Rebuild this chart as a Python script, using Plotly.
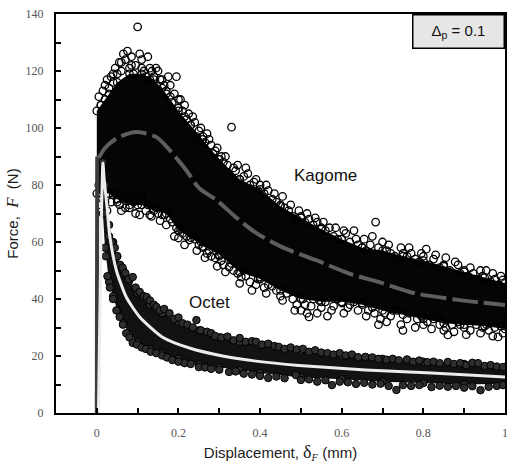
import plotly.graph_objects as go

# ---------------- Kagome lattice ----------------
# dense core of the force–displacement cloud (upper / lower boundary)
kag_core_x = [0.0, 0.01, 0.03, 0.05, 0.08, 0.11, 0.14, 0.17, 0.20, 0.23, 0.26, 0.30, 0.35,
              0.40, 0.45, 0.50, 0.55, 0.60, 0.65, 0.70, 0.75, 0.80, 0.85, 0.90, 0.95, 1.0]
kag_core_hi = [106, 108, 112, 116, 119, 119, 117, 112, 106, 101, 96, 89, 82,
               78.5, 72.5, 68.5, 64.5, 61, 58, 57, 55, 53.5, 51.5, 49.5, 47.5, 45.5]
kag_core_lo = [77, 77, 77, 75, 73, 73, 71, 70, 64, 61.5, 58.5, 55.5, 49.5,
               47, 43, 40, 39, 39, 38, 36, 34.5, 33, 31.5, 31, 30.5, 29.5]

# scattered measurements around the core
kag_x = [0.005, 0.010, 0.015, 0.020, 0.025, 0.030, 0.035, 0.040, 0.045, 0.050, 0.055, 0.060,
         0.065, 0.070, 0.075, 0.080, 0.085, 0.090, 0.095, 0.100, 0.105, 0.110, 0.115, 0.120,
         0.125, 0.130, 0.135, 0.140, 0.150, 0.155, 0.160, 0.165, 0.170, 0.175, 0.180, 0.185,
         0.190, 0.195, 0.200, 0.205, 0.210, 0.215, 0.220, 0.225, 0.230, 0.240, 0.245, 0.250,
         0.260, 0.265, 0.270, 0.280, 0.285, 0.290, 0.300, 0.305, 0.310, 0.320, 0.330, 0.335,
         0.340, 0.350, 0.360, 0.370, 0.375, 0.385, 0.395, 0.400, 0.410, 0.420, 0.430, 0.440,
         0.450, 0.460, 0.470, 0.480, 0.490, 0.500, 0.510, 0.520, 0.530, 0.540, 0.550, 0.560,
         0.570, 0.580, 0.590, 0.600, 0.610, 0.620, 0.630, 0.640, 0.650, 0.660, 0.670, 0.683,
         0.690, 0.700, 0.710, 0.720, 0.730, 0.740, 0.750, 0.760, 0.770, 0.780, 0.790, 0.800,
         0.807, 0.815, 0.825, 0.840, 0.850, 0.865, 0.878, 0.890, 0.900, 0.910, 0.922, 0.935,
         0.945, 0.954, 0.965, 0.975, 0.985, 0.995,
         0.005, 0.010, 0.015, 0.020, 0.030, 0.040, 0.044, 0.050, 0.056, 0.065, 0.070, 0.080,
         0.090, 0.100, 0.110, 0.120, 0.130, 0.134, 0.145, 0.150, 0.160, 0.166, 0.175, 0.185,
         0.195, 0.200, 0.210, 0.220, 0.227, 0.240, 0.250, 0.260, 0.270, 0.280, 0.290, 0.300,
         0.310, 0.324, 0.335, 0.345, 0.354, 0.365, 0.375, 0.390, 0.400, 0.410, 0.420, 0.440,
         0.450, 0.465, 0.480, 0.490, 0.500, 0.510, 0.520, 0.530, 0.550, 0.560, 0.575, 0.590,
         0.600, 0.615, 0.630, 0.650, 0.665, 0.680, 0.695, 0.705, 0.720, 0.735, 0.750, 0.760,
         0.780, 0.795, 0.810, 0.825, 0.840, 0.855, 0.860, 0.870, 0.885, 0.900, 0.915, 0.930,
         0.945, 0.960, 0.975, 0.983, 0.995]
kag_F = [111, 108, 113, 110, 117, 114, 118, 116, 121, 119, 123, 120,
         126, 124, 127, 121, 125, 119, 122, 135.5, 126, 121, 120, 118,
         125, 121, 120, 118, 120, 117, 114, 115, 113, 118, 111, 109,
         112, 118, 107, 110, 106, 104, 103, 105, 101, 102, 97, 99,
         97, 95, 98, 94, 91, 92, 89, 90, 88, 87, 100.3, 86,
         85, 82, 83, 84, 80, 81, 78, 80, 77, 78, 75, 74,
         73, 72, 71, 69, 68, 69, 67, 68, 66, 67, 65, 64,
         65, 62, 61, 61, 63, 60, 64, 59, 58, 57, 59, 67,
         58, 60, 57, 56, 55, 54, 56, 55, 56, 54, 53, 55,
         57.5, 52, 54, 51, 52, 50, 53, 49, 50, 48, 49, 47,
         48, 50, 46, 47, 45, 46.7,
         80, 76, 78, 74, 77, 76.5, 77, 74, 73, 75, 72, 72,
         74, 73, 76, 71, 69.5, 69, 72, 70, 69.5, 69.5, 71, 67,
         65, 61.4, 63, 62, 60.7, 61, 59, 58, 56, 55, 54.4, 55,
         52, 51.2, 50, 49, 47.7, 48, 46, 45, 47.7, 44, 45, 43,
         41, 42, 40, 38, 36, 38, 33.7, 40, 37, 39, 36, 40,
         38.6, 37, 39, 38.6, 36, 35, 33, 35, 34, 36, 29, 33,
         30, 34, 32, 33, 31, 30, 27.4, 31, 32, 30, 29, 31,
         30, 29, 30, 26.7, 28]

# second row of points along the fringe of the cloud
kag_fringe_x = [0.020, 0.040, 0.060, 0.085, 0.110, 0.130, 0.145, 0.160, 0.180, 0.200, 0.215,
                0.235, 0.255, 0.275, 0.295, 0.315, 0.345, 0.365, 0.390, 0.415, 0.435, 0.455,
                0.475, 0.495, 0.515, 0.535, 0.555, 0.585, 0.605, 0.635, 0.655, 0.675, 0.715,
                0.745, 0.765, 0.795, 0.830, 0.855, 0.885, 0.915, 0.940, 0.970, 0.990,
                0.010, 0.025, 0.035, 0.060, 0.075, 0.095, 0.105, 0.125, 0.140, 0.155, 0.170,
                0.180, 0.190, 0.205, 0.215, 0.235, 0.245, 0.255, 0.265, 0.275, 0.295, 0.305,
                0.315, 0.330, 0.350, 0.360, 0.380, 0.395, 0.415, 0.430, 0.455, 0.470, 0.485,
                0.505, 0.515, 0.525, 0.540, 0.545, 0.565, 0.580, 0.605, 0.620, 0.640, 0.660,
                0.675, 0.690, 0.710, 0.725, 0.745, 0.765, 0.785, 0.800, 0.820, 0.835, 0.850,
                0.875, 0.890, 0.905, 0.925, 0.940, 0.955, 0.970, 0.990]
kag_fringe_F = [115, 119, 123, 122, 124, 117, 121, 117, 115, 110, 108,
                104, 100, 96, 93, 90, 87, 86, 82, 80, 77, 76,
                73, 71, 70, 68.5, 67, 65, 64, 61, 61, 62, 59,
                58, 58, 56, 55.5, 54.5, 52, 51, 50, 49, 48,
                73, 71, 74, 71, 76, 70, 69.5, 73, 74, 67.5, 66,
                68, 62, 64.5, 59, 62.5, 57, 60, 54.5, 57, 51.5, 53.5,
                49.5, 52.5, 45.5, 50, 43, 47, 42, 44.5, 39.5, 44, 36,
                40, 35, 37.5, 35, 39.5, 34, 37.5, 35, 38, 36, 34,
                37, 31, 32, 36, 31, 35, 33, 31, 29.5, 33.5, 29,
                28.5, 31, 27.5, 32.5, 28, 31, 27, 30.5]

# fitted mean response
kag_mean_x = [0.005, 0.02, 0.05, 0.097, 0.146, 0.178, 0.22, 0.25, 0.293, 0.34, 0.39,
              0.454, 0.536, 0.617, 0.69, 0.78, 0.89, 1.0]
kag_mean_F = [89.5, 93, 96.5, 98.6, 96.8, 92.3, 85, 79, 74.7, 68.8, 63.2,
              58.2, 53.7, 49, 46, 42, 39.6, 37.9]

# ---------------- Octet lattice ----------------
oct_core_x = [0.015, 0.02, 0.03, 0.04, 0.05, 0.065, 0.08, 0.10, 0.13, 0.16, 0.20,
              0.25, 0.30, 0.35, 0.40, 0.50, 0.60, 0.70, 0.80, 0.90, 1.0]
oct_core_hi = [88, 80, 66, 60, 55, 50, 46.5, 42, 38, 35, 32,
               29, 26.5, 25, 23.8, 21.8, 20.2, 19, 18, 17.2, 16.2]
oct_core_lo = [70, 58, 46, 41, 36, 31.5, 27.5, 24.8, 22.5, 21, 19,
               17, 16, 15, 14, 12.5, 11.8, 11, 10.5, 10, 10.3]

oct_x = [0.030, 0.036, 0.044, 0.050, 0.057, 0.063, 0.070, 0.078, 0.088, 0.095, 0.105, 0.115,
         0.122, 0.130, 0.140, 0.146, 0.155, 0.165, 0.178, 0.190, 0.200, 0.210, 0.222, 0.235,
         0.244, 0.255, 0.270, 0.280, 0.290, 0.305, 0.320, 0.335, 0.350, 0.365, 0.380, 0.390,
         0.405, 0.420, 0.435, 0.446, 0.460, 0.475, 0.490, 0.505, 0.520, 0.535, 0.550, 0.565,
         0.580, 0.595, 0.610, 0.625, 0.640, 0.658, 0.675, 0.690, 0.710, 0.725, 0.740, 0.760,
         0.775, 0.790, 0.810, 0.825, 0.840, 0.860, 0.875, 0.890, 0.905, 0.920, 0.934, 0.950,
         0.965, 0.980, 0.995,
         0.022, 0.026, 0.032, 0.040, 0.048, 0.056, 0.064, 0.072, 0.080, 0.088, 0.098, 0.110,
         0.120, 0.132, 0.146, 0.160, 0.172, 0.185, 0.200, 0.215, 0.230, 0.250, 0.265, 0.280,
         0.300, 0.324, 0.340, 0.360, 0.380, 0.400, 0.420, 0.440, 0.460, 0.488, 0.500, 0.520,
         0.540, 0.560, 0.576, 0.595, 0.615, 0.635, 0.655, 0.675, 0.695, 0.715, 0.734, 0.750,
         0.770, 0.790, 0.820, 0.840, 0.860, 0.880, 0.900, 0.920, 0.940, 0.960, 0.980, 0.995]
oct_F = [62, 60, 58, 55, 52, 51, 49, 47, 47.7, 44, 42.5, 41,
         40.7, 39.5, 38, 37.2, 36, 36.5, 35, 33, 33.5, 31.5, 31, 30,
         32.6, 29, 28.5, 28, 27, 26.5, 26.8, 25.5, 26.3, 25, 25.2, 25,
         24, 24.3, 23.5, 23.2, 22.5, 23, 22.3, 22.5, 21.5, 22, 21.2, 21,
         20.5, 21, 20.2, 20.5, 19.6, 19.7, 19.5, 19, 18.7, 19, 18.5, 18.8,
         18, 18.4, 17.8, 18, 17.5, 17.9, 17.2, 17.5, 16.8, 17.6, 17.5, 16.5,
         16.8, 16.3, 16.1,
         55, 48, 44, 40, 36, 33.7, 31, 28, 26.5, 24.6, 24, 23,
         22.5, 21.5, 21, 20.2, 19.5, 18.6, 18, 17.5, 17.2, 16.1, 16, 15.5,
         15.2, 14.4, 14.6, 13.8, 13.5, 13, 12.3, 12.8, 12.2, 13.3, 11.6, 11.8,
         11, 11.5, 9.8, 11, 10.8, 10.2, 10.6, 10.0, 10.3, 9.5, 8.1, 9.8,
         9.5, 9.8, 9.1, 9.6, 9.2, 9.5, 8.9, 9.4, 8.0, 9.2, 9.5, 9.8]

oct_mean_x = [0.004, 0.010, 0.015, 0.018, 0.024, 0.032, 0.048, 0.072, 0.105, 0.16,
              0.227, 0.308, 0.39, 0.495, 0.658, 0.82, 1.0]
oct_mean_F = [0, 60, 87.7, 82, 73.7, 61.8, 50, 40.7, 33.7, 26.7,
              22.8, 20, 18.2, 16.7, 15.1, 14, 12.6]

# initial elastic loading branch
load_x = [0.0, 0.001]
load_F = [0, 90]

# axis ticks
x_ticks = [0.0, 0.1, 0.2, 0.3, 0.4, 0.5, 0.6, 0.7, 0.8, 0.9, 1.0]
x_tick_text = ["0", "", "0.2", "", "0.4", "", "0.6", "", "0.8", "", "1"]
y_ticks = [0, 10, 20, 30, 40, 50, 60, 70, 80, 90, 100, 110, 120, 130, 140]
y_tick_text = ["0", "", "20", "", "40", "", "60", "", "80", "", "100", "", "120", "", "140"]

open_marker = dict(symbol="circle-open", size=7.5, color="black", line=dict(width=1.3))
oct_marker = dict(symbol="circle", size=7.5, color="#2e2e2e", line=dict(width=1, color="black"))

fig = go.Figure()

# Kagome: dense core + scattered open circles
fig.add_trace(go.Scatter(
    x=kag_core_x + kag_core_x[::-1], y=kag_core_hi + kag_core_lo[::-1],
    mode="lines+markers", fill="toself", fillcolor="#050505",
    line=dict(width=0, color="black"), marker=open_marker,
    hoverinfo="skip", showlegend=False))
fig.add_trace(go.Scatter(x=kag_fringe_x, y=kag_fringe_F, mode="markers",
                         marker=open_marker, showlegend=False))
fig.add_trace(go.Scatter(x=kag_x, y=kag_F, mode="markers",
                         marker=open_marker, showlegend=False))

# elastic loading
fig.add_trace(go.Scatter(x=load_x, y=load_F, mode="lines",
                         line=dict(color="#3c3c3c", width=4), showlegend=False))

# Octet: dense core + filled grey circles
fig.add_trace(go.Scatter(
    x=oct_core_x + oct_core_x[::-1], y=oct_core_hi + oct_core_lo[::-1],
    mode="lines+markers", fill="toself", fillcolor="#121212",
    line=dict(width=0, color="black"), marker=oct_marker,
    hoverinfo="skip", showlegend=False))
fig.add_trace(go.Scatter(x=oct_x, y=oct_F, mode="markers",
                         marker=oct_marker, showlegend=False))

# mean curves
fig.add_trace(go.Scatter(x=oct_mean_x, y=oct_mean_F, mode="lines",
                         line=dict(color="#ececec", width=3, shape="spline", smoothing=0.6),
                         showlegend=False))
fig.add_trace(go.Scatter(x=kag_mean_x, y=kag_mean_F, mode="lines",
                         line=dict(color="#5e5e5e", width=4, dash="26px,6px",
                                   shape="spline", smoothing=0.8),
                         showlegend=False))

SERIF = "Liberation Serif, Times New Roman, serif"
SANS = "Liberation Sans, Arial, sans-serif"
tick_font = dict(family=SERIF, size=12, color="#555555")
title_font = dict(family=SANS, size=15, color="#1a1a1a")

x_title = ("Displacement, <span style='font-family:" + SERIF + ";font-size:18px'>δ</span>"
           "<sub><span style='font-family:" + SERIF + "'><i>F</i></span></sub> (mm)")
y_title = "Force,  <span style='font-family:" + SERIF + ";font-size:17px'><i>F</i></span>  (N)"

fig.update_layout(
    width=508, height=468,
    margin=dict(l=56, r=1, t=14, b=55),
    plot_bgcolor="white", paper_bgcolor="white",
    xaxis=dict(range=[-0.1, 1.0], tickvals=x_ticks, ticktext=x_tick_text,
               ticks="inside", ticklen=5, tickwidth=1.5, tickcolor="black",
               showline=True, linecolor="black", linewidth=2, mirror=True,
               showgrid=False, zeroline=False, tickfont=tick_font, ticklabelstandoff=8,
               title=dict(text=x_title, font=title_font, standoff=8)),
    yaxis=dict(range=[0, 140], tickvals=y_ticks, ticktext=y_tick_text,
               ticks="inside", ticklen=5, tickwidth=1.5, tickcolor="black",
               showline=True, linecolor="black", linewidth=2, mirror=True,
               showgrid=False, zeroline=False, tickfont=tick_font, ticklabelstandoff=8,
               title=dict(text=y_title, font=title_font, standoff=3)),
    annotations=[
        dict(x=0.561, y=83.5, xref="x", yref="y", text="Kagome", showarrow=False,
             font=dict(family=SANS, size=17, color="#111111")),
        dict(x=0.276, y=38.6, xref="x", yref="y", text="Octet", showarrow=False,
             font=dict(family=SANS, size=17, color="#111111")),
        dict(x=1.0, y=1.0, xref="paper", yref="paper", xanchor="right", yanchor="top",
             text="Δ<sub>p</sub> = 0.1", showarrow=False, align="center",
             width=86, height=28, borderpad=2, borderwidth=1.5, bordercolor="black",
             bgcolor="#e6e6e6",
             font=dict(family=SANS, size=15, color="#111111")),
    ],
)

fig.write_html("out.html")
